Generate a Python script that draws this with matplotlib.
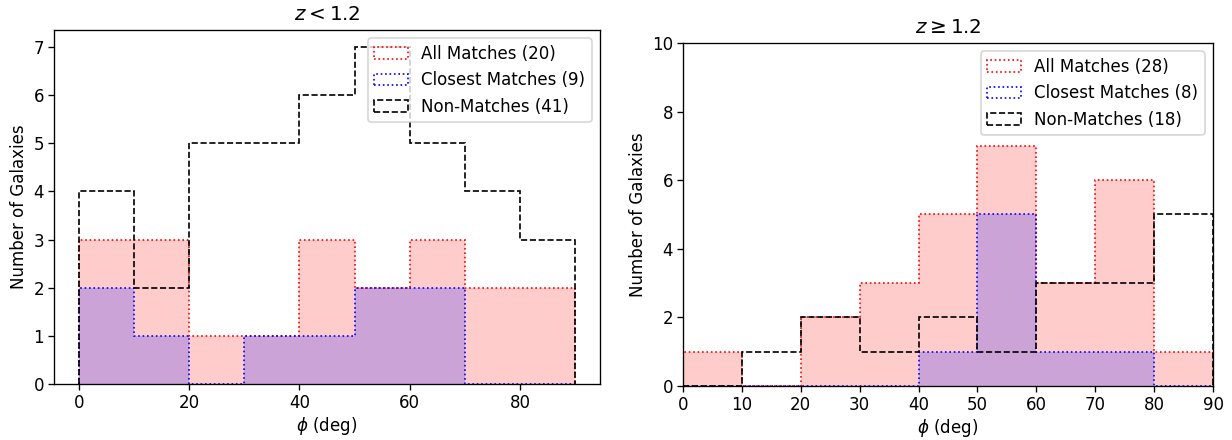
import numpy as np
import matplotlib
matplotlib.use('Agg')
import matplotlib.pyplot as plt

# bin edges (deg) and counts per bin
edges = np.arange(0, 100, 10)

low_all = [3, 3, 1, 1, 3, 2, 3, 2, 2]
low_closest = [2, 1, 0, 1, 1, 2, 2, 0, 0]
low_non = [4, 2, 5, 5, 6, 7, 5, 4, 3]

high_all = [1, 0, 2, 3, 5, 7, 3, 6, 1]
high_closest = [0, 0, 0, 0, 1, 5, 1, 1, 0]
high_non = [0, 1, 2, 1, 2, 1, 3, 3, 5]

titles = [r'$z < 1.2$', r'$z \geq 1.2$']

DPI = 120


def draw_panel(ax, all_m, closest, non):
    centers = edges[:-1] + 5
    # filled areas
    ax.hist(centers, bins=edges, weights=all_m, histtype='stepfilled', color='red', alpha=0.2)
    ax.hist(centers, bins=edges, weights=all_m, histtype='step', color='red', ls=':',
            label='All Matches (%d)' % sum(all_m))
    ax.hist(centers, bins=edges, weights=closest, histtype='stepfilled', color='blue', alpha=0.2)
    ax.hist(centers, bins=edges, weights=closest, histtype='step', color='blue', ls=':',
            label='Closest Matches (%d)' % sum(closest))
    ax.hist(centers, bins=edges, weights=non, histtype='step', color='black', ls='--',
            label='Non-Matches (%d)' % sum(non))
    ax.tick_params(pad=2.5)
    ax.set_xlabel(r'$\phi$ (deg)', labelpad=2)
    ax.set_ylabel('Number of Galaxies', labelpad=3)
    ax.legend(loc='upper right')


fig = plt.figure(figsize=(1232 / DPI, 440 / DPI), dpi=DPI)
ax1 = fig.add_axes([54 / 1232, 56 / 440, 546 / 1232, 354 / 440])
ax2 = fig.add_axes([683 / 1232, 54 / 440, 530 / 1232, 343 / 440])

draw_panel(ax1, low_all, low_closest, low_non)
ax1.set_title(titles[0])

draw_panel(ax2, high_all, high_closest, high_non)
ax2.set_title(titles[1])
ax2.set_xlim(0, 90)
ax2.set_ylim(0, 10)
ax2.set_xticks(np.arange(0, 100, 10))

fig.savefig('out.png', dpi=DPI)
